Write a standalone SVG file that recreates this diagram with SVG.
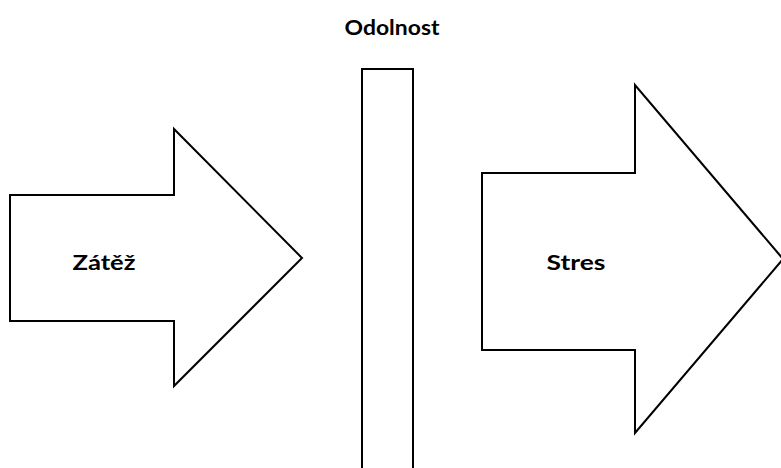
<svg xmlns="http://www.w3.org/2000/svg" width="781" height="468" viewBox="0 0 781 468">
  <style>
    .shape { fill: #ffffff; stroke: #000000; stroke-width: 2; stroke-linejoin: miter; }
    .label { font-family: Lato, "Open Sans", "Liberation Sans", sans-serif; font-weight: bold; font-size: 21.5px; fill: #000000; }
  </style>
  <rect width="781" height="468" fill="#ffffff"/>
  <g id="zatez">
    <polygon class="shape" points="10,195 174,195 174,129 302,258 174,386 174,321 10,321"/>
    <text class="label" x="104" y="270" text-anchor="middle" textLength="63" lengthAdjust="spacingAndGlyphs">Zátěž</text>
  </g>
  <g id="odolnost">
    <rect class="shape" x="362" y="69" width="51" height="410"/>
    <text class="label" x="392" y="35" text-anchor="middle" textLength="95" lengthAdjust="spacingAndGlyphs">Odolnost</text>
  </g>
  <g id="stres">
    <polygon class="shape" points="482,173 635,173 635,85 783,259 635,433 635,350 482,350"/>
    <text class="label" x="576" y="270" text-anchor="middle" textLength="59" lengthAdjust="spacingAndGlyphs">Stres</text>
  </g>
  <g id="connectors"></g>
</svg>
